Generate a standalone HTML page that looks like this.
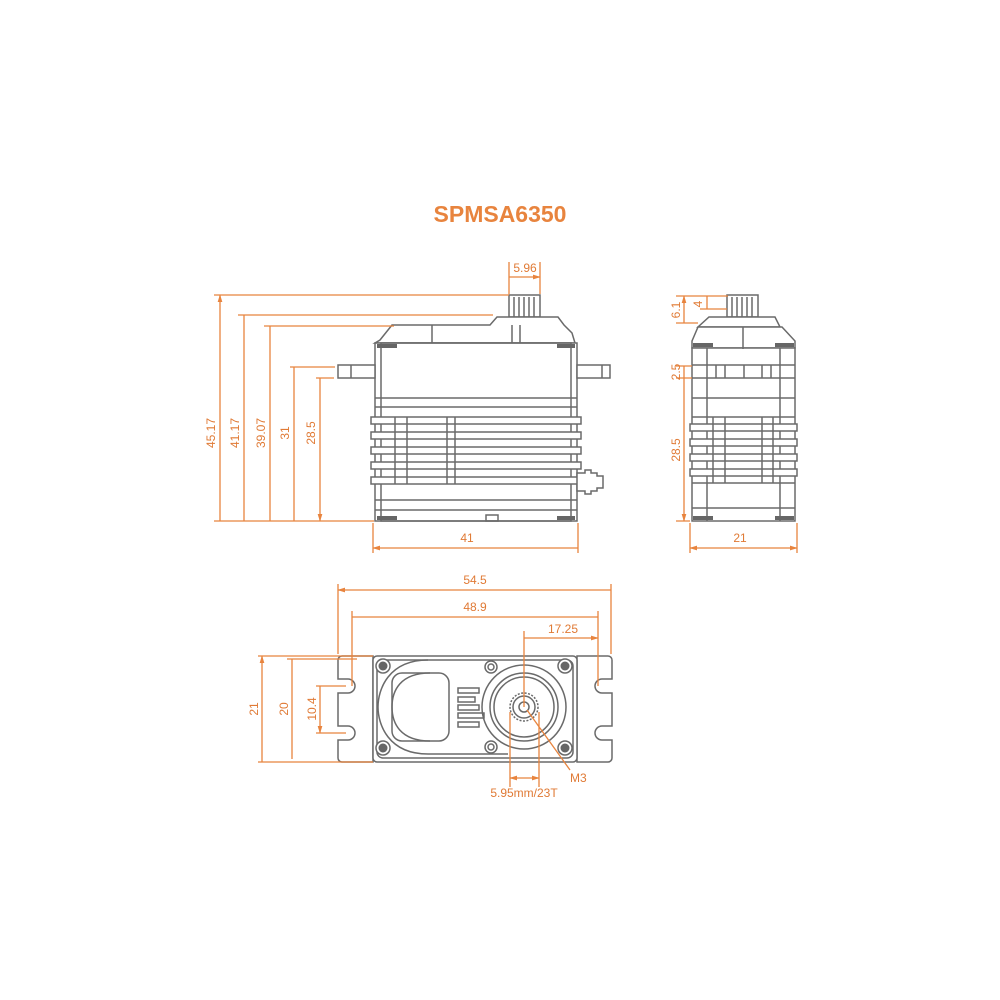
<!DOCTYPE html>
<html><head><meta charset="utf-8"><style>
html,body{margin:0;padding:0;background:#fff}
svg{display:block}
text{font-family:"Liberation Sans",Arial,sans-serif;fill:#e07a35;font-size:12px}
.o{stroke:#e8843e;stroke-width:1.3;fill:none}
.g{stroke:#6a6a6a;stroke-width:1.5;fill:none}
.gf{stroke:#6a6a6a;stroke-width:1.5;fill:#fff}
.d{fill:#666}
</style></head><body>
<svg width="1000" height="1000" viewBox="0 0 1000 1000">
<defs>
<marker id="a" viewBox="0 0 10 10" refX="9" refY="5" markerWidth="6" markerHeight="6" orient="auto-start-reverse"><path d="M0,2 L10,5 L0,8z" fill="#e8843e"/></marker>
</defs>
<text x="500" y="222" text-anchor="middle" style="font-size:23px;font-weight:bold;fill:#e8843e">SPMSA6350</text>

<!-- FRONT VIEW -->
<g>
<rect class="gf" x="509" y="295" width="31" height="22"/>
<path class="g" d="M514 297v20M519 297v20M524 297v20M529 297v20M534 297v20"/>
<path class="gf" d="M380 340 L392 325 L490 325 L497 317 L558 317 L564 325 L572 333 L575 343 L375 343Z"/>
<path class="g" d="M432 325v25M377 350h198M512 325v25M520 325v25"/>
<rect class="gf" x="375" y="343" width="202" height="178"/>
<rect class="g" x="381" y="343" width="190" height="178"/>
<rect class="gf" x="338" y="365" width="37" height="13"/>
<rect class="gf" x="577" y="365" width="33" height="13"/>
<path class="g" d="M351 365v13M602 365v13M375 398h202M375 407h202M375 500h202M375 510h202"/>
<g class="gf">
<rect x="371" y="417" width="210" height="7"/><rect x="371" y="432" width="210" height="7"/>
<rect x="371" y="447" width="210" height="7"/><rect x="371" y="462" width="210" height="7"/>
<rect x="371" y="477" width="210" height="7"/>
</g>
<path class="g" d="M395 417v67M407 417v67M447 417v67M455 417v67"/>
<path class="gf" d="M577 473h8v-3h6v3h6v3h6v12h-6v3h-6v3h-6v-3h-8z"/>
<rect class="d" x="377" y="344" width="20" height="4"/><rect class="d" x="557" y="344" width="18" height="4"/>
<rect class="d" x="377" y="516" width="20" height="4"/><rect class="d" x="557" y="516" width="18" height="4"/>
<rect class="g" x="486" y="515" width="12" height="6"/>
</g>
<!-- front dims -->
<g class="o">
<path d="M214 295h295M238 315h255M264 326h130M290 367h45M316 378h18M214 521h160"/>
<path d="M220 295V521M244 315V521M270 326V521M294 367V521M320 378V521" marker-start="url(#a)" marker-end="url(#a)"/>
<path d="M373 523v30M578 523v30M509 262v32M540 262v32"/>
<path d="M373 548H578M509 277H540" marker-start="url(#a)" marker-end="url(#a)"/>
</g>
<g>
<text transform="translate(215,433) rotate(-90)" text-anchor="middle">45.17</text>
<text transform="translate(239,433) rotate(-90)" text-anchor="middle">41.17</text>
<text transform="translate(265,433) rotate(-90)" text-anchor="middle">39.07</text>
<text transform="translate(289,433) rotate(-90)" text-anchor="middle">31</text>
<text transform="translate(315,433) rotate(-90)" text-anchor="middle">28.5</text>
<text x="467" y="542" text-anchor="middle">41</text>
<text x="525" y="272" text-anchor="middle">5.96</text>
</g>

<!-- SIDE VIEW -->
<g>
<rect class="gf" x="727" y="295" width="31" height="22"/>
<path class="g" d="M732 297v20M737 297v20M742 297v20M747 297v20M752 297v20"/>
<path class="gf" d="M709 317h66l5 10h-82z"/>
<path class="gf" d="M698 327h84l13 14v7h-103v-7z"/>
<rect class="gf" x="692" y="348" width="103" height="173"/>
<path class="g" d="M692 365h103M692 378h103M692 398h103M692 417h103M692 483h103M692 508h103M743 327v22M707 348v173M780 348v173M716 365v13M725 365v13M744 365v13M762 365v13M771 365v13"/>
<g class="gf">
<rect x="690" y="424" width="107" height="7"/><rect x="690" y="439" width="107" height="7"/>
<rect x="690" y="454" width="107" height="7"/><rect x="690" y="469" width="107" height="7"/>
</g>
<path class="g" d="M713 417v66M725 417v66M762 417v66M773 417v66"/>
<rect class="d" x="693" y="343" width="20" height="4"/><rect class="d" x="775" y="343" width="19" height="4"/>
<rect class="d" x="693" y="516" width="20" height="4"/><rect class="d" x="775" y="516" width="19" height="4"/>
</g>
<g class="o">
<path d="M676 296h52M700 309h27M676 323h22M676 366h16M676 378h16M676 521h14"/>
<path d="M684 296V323M707 296V309M684 366V378M684 378V521" marker-start="url(#a)" marker-end="url(#a)"/>
<path d="M690 523v30M797 523v30"/>
<path d="M690 548H797" marker-start="url(#a)" marker-end="url(#a)"/>
</g>
<text transform="translate(680,310) rotate(-90)" text-anchor="middle">6.1</text>
<text transform="translate(702,304) rotate(-90)" text-anchor="middle">4</text>
<text transform="translate(680,372) rotate(-90)" text-anchor="middle">2.5</text>
<text transform="translate(680,450) rotate(-90)" text-anchor="middle">28.5</text>
<text x="740" y="542" text-anchor="middle">21</text>

<!-- BOTTOM VIEW -->
<g>
<path class="gf" d="M373 656h-31a4 4 0 0 0-4 4v19h10a7 7 0 0 1 0 14h-10v33h10a7 7 0 0 1 0 14h-10v18a4 4 0 0 0 4 4h31z"/>
<path class="gf" d="M577 656h31a4 4 0 0 1 4 4v19h-10a7 7 0 0 0 0 14h10v33h-10a7 7 0 0 0 0 14h10v18a4 4 0 0 1-4 4h-31z"/>
<rect class="gf" x="373" y="656" width="204" height="106" rx="4"/>
<rect class="g" x="377" y="660" width="196" height="98" rx="6"/>
<path class="g" d="M428 660c-40 0-50 30-50 47s10 47 50 47h80"/>
<path class="g" d="M430 673c-30 0-38 18-38 34s8 34 38 34"/>
<rect class="g" x="392" y="673" width="57" height="68" rx="10"/>
<rect class="g" x="458" y="688" width="21" height="5"/><rect class="g" x="458" y="697" width="17" height="5"/>
<rect class="g" x="458" y="705" width="21" height="5"/><rect class="g" x="458" y="713" width="26" height="5"/>
<rect class="g" x="458" y="722" width="21" height="5"/>
<circle class="g" cx="524" cy="707" r="42"/>
<circle class="g" cx="524" cy="707" r="34"/>
<circle class="g" cx="524" cy="707" r="30"/>
<circle class="g" cx="524" cy="707" r="14" stroke-dasharray="2 1.5"/>
<circle class="g" cx="524" cy="707" r="11"/>
<circle class="g" cx="524" cy="707" r="5"/>
<g class="gf"><circle cx="383" cy="666" r="7"/><circle cx="383" cy="748" r="7"/><circle cx="565" cy="666" r="7"/><circle cx="565" cy="748" r="7"/><circle cx="491" cy="667" r="6"/><circle cx="491" cy="747" r="6"/></g>
<g class="d"><circle cx="383" cy="666" r="4.5"/><circle cx="383" cy="748" r="4.5"/><circle cx="565" cy="666" r="4.5"/><circle cx="565" cy="748" r="4.5"/></g>
<circle class="g" cx="491" cy="667" r="3"/><circle class="g" cx="491" cy="747" r="3"/>
</g>
<g class="o">
<path d="M338 584v70M611 584v70M352 611v75M598 611v75M524 631V707M598 631v4"/>
<path d="M338 590H611M352 617H598M524 638H598" marker-start="url(#a)" marker-end="url(#a)"/>
<path d="M258 656h115M287 659h70M316 686h30M316 733h30M258 762h115"/>
<path d="M262 656V762M292 659V759M320 686V733" marker-start="url(#a)" marker-end="url(#a)"/>
<path d="M510 712v75M539 712v75M527 710L570 770"/>
<path d="M510 778H539" marker-start="url(#a)" marker-end="url(#a)"/>
</g>
<text x="475" y="584" text-anchor="middle">54.5</text>
<text x="475" y="611" text-anchor="middle">48.9</text>
<text x="563" y="633" text-anchor="middle">17.25</text>
<text transform="translate(258,709) rotate(-90)" text-anchor="middle">21</text>
<text transform="translate(288,709) rotate(-90)" text-anchor="middle">20</text>
<text transform="translate(316,709) rotate(-90)" text-anchor="middle">10.4</text>
<text x="570" y="782">M3</text>
<text x="524" y="797" text-anchor="middle">5.95mm/23T</text>
</svg>
</body></html>
